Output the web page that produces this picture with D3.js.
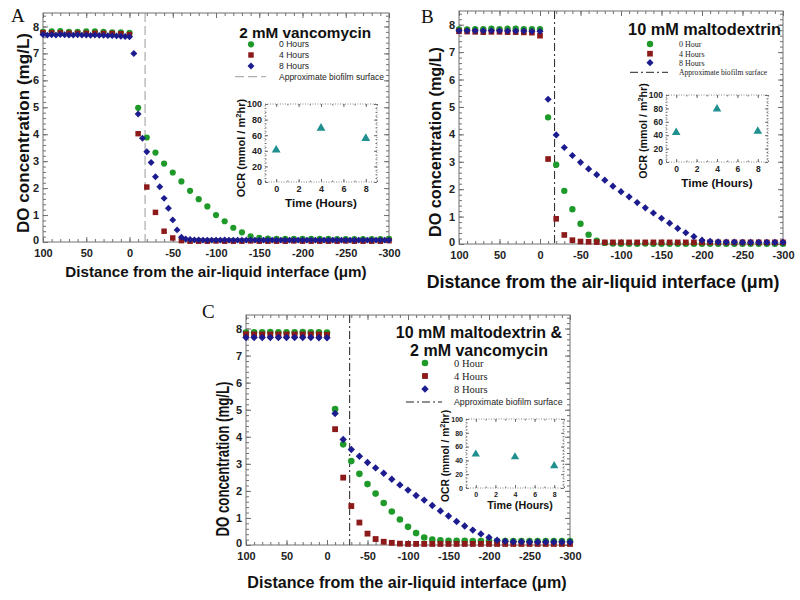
<!DOCTYPE html>
<html><head><meta charset="utf-8">
<script src="https://cdn.jsdelivr.net/npm/d3@7"></script>
<style>body{margin:0;background:#fff}</style>
</head><body><svg id="c" width="800" height="600"></svg>
<script>
// ---------------- DATA ----------------
const depth10 = [100,90,80,70,60,50,40,30,20,10,0,-10,-20,-30,-40,-50,-60,-70,-80,-90,-100,-110,-120,-130,-140,-150,-160,-170,-180,-190,-200,-210,-220,-230,-240,-250,-260,-270,-280,-290,-300];
const depth5 = [100,95,90,85,80,75,70,65,60,55,50,45,40,35,30,25,20,15,10,5,0,
  -5,-10,-15,-20,-25,-30,-35,-40,-45,-50,-55,-60,
  -65,-70,-75,-80,-85,-90,-95,-100,-105,-110,-115,-120,-125,-130,-135,-140,-145,-150,-155,-160,-165,-170,-175,-180,-185,-190,-195,-200,-205,-210,-215,-220,-225,-230,-235,-240,-245,-250,-255,-260,-265,-270,-275,-280,-285,-290,-295,-300];
const xTicks = [100,50,0,-50,-100,-150,-200,-250,-300];
const yTicks = [0,1,2,3,4,5,6,7,8];
const ocrTicksY = [0,20,40,60,80,100];
const ocrTicksX = [0,2,4,6,8];
const hours = [0,4,8];
const labelsA = ["0 Hours","4 Hours","8 Hours"];
const labelsBC = ["0 Hour","4 Hours","8 Hours"];
const surfaceLabel = "Approximate biofilm surface";

// Panel A: 2 mM vancomycin
const doA0 = [7.80,7.82,7.83,7.80,7.80,7.82,7.82,7.80,7.78,7.78,7.76,
  4.98,3.88,3.32,2.91,2.58,2.25,1.90,1.59,1.32,1.00,0.77,0.53,0.36,0.21,0.15,
  0.13,0.12,0.12,0.12,0.12,0.12,0.12,0.12,0.11,0.11,0.11,0.11,0.11,0.11,0.12];
const doA4 = [7.77,7.76,7.76,7.75,7.75,7.75,7.75,7.74,7.74,7.73,7.70,
  4.02,2.04,1.10,0.40,0.15,0.05,0.03,
  0.03,0.03,0.04,0.03,0.03,0.03,0.04,0.03,0.03,0.03,0.03,0.04,0.03,0.03,0.03,0.03,0.03,0.04,0.03,0.03,0.03,0.03,0.05];
const doA8 = [7.70,7.68,7.69,7.68,7.70,7.69,7.68,7.68,7.69,7.68,7.68,7.67,7.68,7.67,7.67,7.66,7.66,7.65,7.64,7.63,7.62,
  7.00,4.75,3.85,3.35,2.95,2.42,2.05,1.62,1.25,0.82,0.45,0.18,
  0.11,0.09,0.08,0.08,0.07,0.07,0.07,0.07,
  0.07,0.08,0.07,0.07,0.07,0.07,0.07,0.08,
  0.07,0.07,0.07,0.07,0.07,0.07,0.07,0.07,
  0.07,0.07,0.07,0.07,0.07,0.07,0.07,0.07,
  0.07,0.07,0.07,0.07,0.07,0.07,0.07,0.07,
  0.07,0.07,0.07,0.07,0.07,0.07,0.07,0.07];
const ocrA = [41,69,56];
const surfA = -18;

// Panel B: 10 mM maltodextrin
const doB0 = [7.83,7.83,7.84,7.84,7.85,7.84,7.85,7.85,7.84,7.84,7.84,
  4.62,2.89,1.94,1.27,0.74,0.34,0.12,
  0.04,0.02,0.01,0.01,0.01,0.02,0.01,0.01,0.01,0.01,0.01,0.01,0.01,0.01,0.01,0.01,0.01,0.01,0.01,0.01,0.01,0.01,0.01];
const doB4 = [7.76,7.75,7.74,7.73,7.74,7.74,7.73,7.73,7.72,7.71,7.60,
  3.10,0.92,0.33,0.14,0.09,0.08,0.07,
  0.06,0.06,0.06,0.06,0.06,0.06,0.06,0.06,0.06,0.06,0.06,0.06,0.06,0.06,0.06,0.06,0.06,0.06,0.06,0.06,0.06,0.06,0.06];
const doB8 = [7.78,7.78,7.78,7.78,7.78,7.78,7.77,7.77,7.77,7.76,7.76,
  5.28,3.98,3.52,3.23,2.98,2.74,2.53,2.33,2.11,1.91,1.72,1.51,1.32,1.13,0.94,0.76,0.57,0.41,0.27,0.14,0.10,0.08,
  0.07,0.07,0.06,0.06,0.06,0.06,0.06,0.06];
const ocrB = [44,79,46];
const surfB = -18;

// Panel C: 10 mM maltodextrin & 2 mM vancomycin
const doC0 = [7.85,7.86,7.86,7.87,7.86,7.86,7.86,7.87,7.86,7.86,7.85,
  5.02,3.72,3.10,2.63,2.25,1.90,1.55,1.24,0.94,0.67,0.44,0.28,0.20,0.17,
  0.16,0.16,0.16,0.15,0.15,0.15,0.15,0.15,0.15,0.15,0.15,0.15,0.15,0.15,0.15,0.15];
const doC4 = [7.79,7.78,7.78,7.78,7.78,7.78,7.78,7.78,7.78,7.78,7.77,
  4.28,2.49,1.44,0.83,0.42,0.22,0.12,0.08,0.05,
  0.04,0.04,0.04,0.04,0.04,0.04,0.04,0.04,0.04,0.04,0.04,0.04,0.04,0.04,0.04,0.04,0.04,0.04,0.04,0.04,0.04];
const doC8 = [7.67,7.67,7.67,7.67,7.67,7.67,7.67,7.67,7.67,7.66,7.66,
  4.86,3.90,3.53,3.28,3.05,2.85,2.65,2.43,2.22,2.03,1.83,1.66,1.46,1.26,1.07,0.87,0.70,0.55,0.41,0.28,0.18,0.14,
  0.12,0.12,0.11,0.11,0.11,0.11,0.11,0.11];
const ocrC = [49,45,32];
const surfC = -28;

// ---------------- DRAWING ----------------
const svg = d3.select("#c");
svg.append("rect").attr("width",800).attr("height",600).attr("fill","#fff");
const SANS = "'Liberation Sans', Arial, Helvetica, sans-serif";
const SERIF = "'Liberation Serif', 'Times New Roman', Times, serif";
const COLORS = ["#1f9a2a","#8c1a1a","#1c1c8e"];
const squareDiamond = {
  draw(ctx, size) {
    const h = Math.sqrt(size / 2);
    ctx.moveTo(0, -h); ctx.lineTo(h, 0); ctx.lineTo(0, h); ctx.lineTo(-h, 0); ctx.closePath();
  }
};
const SHAPES = [d3.symbolCircle, d3.symbolSquare, squareDiamond];
const TEAL = "#1f8f8f";
const FRAME = "#707070";

function styleAxis(sel, fontSize, showLabels) {
  sel.select(".domain").remove();
  sel.selectAll(".tick line").attr("stroke", FRAME);
  sel.selectAll(".tick text").attr("font-family", SANS).attr("font-weight","bold")
     .attr("font-size", fontSize).attr("fill","#222");
  if (!showLabels) sel.selectAll(".tick text").remove();
}

function frameAxes(g, x, y, r, opt) {
  const fmt = d => String(d);
  const xMinor = x.ticks(opt.xMinorCount), yMinor = y.ticks(opt.yMinorCount);
  const M = opt.major, m = opt.minor;
  g.append("g").attr("transform",`translate(0,${r.y1})`)
    .call(d3.axisBottom(x).tickValues(xMinor).tickSize(-m).tickFormat(""))
    .call(s=>styleAxis(s,opt.font,false));
  g.append("g").attr("transform",`translate(0,${r.y1})`)
    .call(d3.axisBottom(x).tickValues(opt.xTicks).tickSize(-M).tickPadding(opt.xPad).tickFormat(fmt))
    .call(s=>styleAxis(s,opt.font,true));
  g.append("g").attr("transform",`translate(0,${r.y0})`)
    .call(d3.axisTop(x).tickValues(xMinor).tickSize(-m).tickFormat(""))
    .call(s=>styleAxis(s,opt.font,false));
  g.append("g").attr("transform",`translate(0,${r.y0})`)
    .call(d3.axisTop(x).tickValues(opt.xTicks).tickSize(-M).tickFormat(""))
    .call(s=>styleAxis(s,opt.font,false));
  g.append("g").attr("transform",`translate(${r.x0},0)`)
    .call(d3.axisLeft(y).tickValues(yMinor).tickSize(-m).tickFormat(""))
    .call(s=>styleAxis(s,opt.font,false));
  const yl = g.append("g").attr("transform",`translate(${r.x0},0)`)
    .call(d3.axisLeft(y).tickValues(opt.yTicks).tickSize(-M).tickPadding(opt.yPad).tickFormat(fmt))
    .call(s=>styleAxis(s,opt.font,true));
  if (opt.zeroLift) yl.selectAll(".tick text").filter(d=>d===0).attr("dy","0.1em");
  g.append("g").attr("transform",`translate(${r.x1},0)`)
    .call(d3.axisRight(y).tickValues(yMinor).tickSize(-m).tickFormat(""))
    .call(s=>styleAxis(s,opt.font,false));
  g.append("g").attr("transform",`translate(${r.x1},0)`)
    .call(d3.axisRight(y).tickValues(opt.yTicks).tickSize(-M).tickFormat(""))
    .call(s=>styleAxis(s,opt.font,false));
}

function symbolPath(i, size) {
  const sizes = [size, size*1.0, size*0.8];
  return d3.symbol().type(SHAPES[i]).size(sizes[i])();
}

function drawPanel(cfg, series, surf, ocr) {
  const g = svg.append("g");
  const r = cfg.frame;
  const x = d3.scaleLinear().domain([100,-300]).range([r.x0, r.x1]);
  const y = d3.scaleLinear().domain([0,8.5]).range([r.y1, r.y0]);
  g.append("rect").attr("x",r.x0).attr("y",r.y0).attr("width",r.x1-r.x0).attr("height",r.y1-r.y0)
    .attr("fill","none").attr("stroke",FRAME).attr("stroke-width",1);
  frameAxes(g, x, y, r, {xTicks, yTicks, xMinorCount:40, yMinorCount:40, major:5, minor:3,
    font:11, xPad:7, yPad:4, zeroLift:true});

  g.append("line").attr("x1",x(surf)).attr("x2",x(surf)).attr("y1",r.y0).attr("y2",r.y1)
    .attr("stroke",cfg.surfColor).attr("stroke-width",1).attr("stroke-dasharray",cfg.dash);

  series.forEach((s,i) => {
    g.append("g").selectAll("path").data(s.y.map((v,k)=>[s.x[k],v])).join("path")
      .attr("d", symbolPath(i, cfg.msize))
      .attr("transform", d=>`translate(${x(d[0])},${y(d[1])})`)
      .attr("fill", COLORS[i]);
  });

  g.append("text").attr("x",cfg.letter[0]).attr("y",cfg.letter[1]).text(cfg.letter[2])
    .attr("font-family",SERIF).attr("font-size",19).attr("fill","#111");

  g.append("text").attr("x",cfg.xt.x).attr("y",cfg.xt.y).attr("text-anchor","middle")
    .attr("font-family",SANS).attr("font-weight","bold").attr("font-size",cfg.xt.size).attr("fill","#111")
    .text("Distance from the air-liquid interface (\u03bcm)");
  g.append("text").attr("transform",`translate(${cfg.yt.x},${cfg.yt.y}) rotate(-90)`).attr("text-anchor","middle")
    .attr("font-family",SANS).attr("font-weight","bold").attr("font-size",cfg.yt.size).attr("fill","#111")
    .attr("textLength",cfg.yt.len).attr("lengthAdjust","spacingAndGlyphs")
    .text("DO concentration (mg/L)");

  const L = cfg.legend;
  L.title.forEach((t,k)=>{
    g.append("text").attr("x",L.tx).attr("y",L.ty[k]).attr("text-anchor",L.tanchor)
      .attr("font-family",SANS).attr("font-weight","bold").attr("font-size",L.tsize).attr("fill","#111").text(t);
  });
  L.labels.forEach((t,i)=>{
    g.append("path").attr("d",symbolPath(i, cfg.msize)).attr("transform",`translate(${L.mx},${L.ey[i]})`).attr("fill",COLORS[i]);
    g.append("text").attr("x",L.lx).attr("y",L.ey[i]+L.esize*0.35).attr("font-family",L.efont)
      .attr("font-size",L.esize).attr("fill","#222").text(t);
  });
  g.append("line").attr("x1",L.dx[0]).attr("x2",L.dx[1]).attr("y1",L.ey[3]).attr("y2",L.ey[3])
    .attr("stroke",cfg.surfColor).attr("stroke-width",1).attr("stroke-dasharray",cfg.dash);
  g.append("text").attr("x",L.lx).attr("y",L.ey[3]+L.ssize*0.35).attr("font-family",L.sfont)
    .attr("font-size",L.ssize).attr("fill","#222").text(surfaceLabel);

  const I = cfg.inset;
  const xi = d3.scaleLinear().domain([-1,9]).range([I.x0,I.x1]);
  const yi = d3.scaleLinear().domain([0,100]).range([I.y1,I.y0]);
  g.append("rect").attr("x",I.x0).attr("y",I.y0).attr("width",I.x1-I.x0).attr("height",I.y1-I.y0)
    .attr("fill","#fff").attr("stroke","#888").attr("stroke-width",1).attr("stroke-dasharray","1,1.5");
  frameAxes(g, xi, yi, I, {xTicks:ocrTicksX, yTicks:ocrTicksY, xMinorCount:10, yMinorCount:20, major:3, minor:1.5,
    font:I.tick, xPad:4, yPad:3, zeroLift:false});
  hours.forEach((h,k)=>{
    g.append("line").attr("x1",xi(h)).attr("x2",xi(h)).attr("y1",yi(ocr[k]-2.5)).attr("y2",yi(ocr[k]+2.5))
      .attr("stroke",TEAL).attr("stroke-width",1);
  });
  g.append("g").selectAll("path").data(hours.map((h,k)=>[h,ocr[k]])).join("path")
    .attr("d", d3.symbol().type(d3.symbolTriangle).size(I.tri)())
    .attr("transform", d=>`translate(${xi(d[0])},${yi(d[1])})`).attr("fill",TEAL);
  g.append("text").attr("x",I.xl[0]).attr("y",I.xl[1]).attr("text-anchor","middle")
    .attr("font-family",SANS).attr("font-weight","bold").attr("font-size",I.xl[2]).attr("fill","#111").text("Time (Hours)");
  const yl = g.append("text").attr("transform",`translate(${I.yl[0]},${I.yl[1]}) rotate(-90)`).attr("text-anchor","middle")
    .attr("font-family",SANS).attr("font-weight","bold").attr("font-size",I.yl[2]).attr("fill","#111");
  yl.append("tspan").text("OCR (mmol / m");
  yl.append("tspan").attr("dy",-I.yl[2]*0.4).attr("font-size",I.yl[2]*0.7).text("2");
  yl.append("tspan").attr("dy",I.yl[2]*0.4).text("hr)");
}

const cfgA = {
  frame:{x0:43,x1:389,y0:13,y1:242}, msize:30, surfColor:"#9a9a9a", dash:"9,4",
  letter:[11,22,"A"], xt:{x:216,y:277,size:15.2}, yt:{x:29,y:133,size:17,len:200},
  legend:{title:["2 mM vancomycin"], tx:371, ty:[37.5], tanchor:"end", tsize:15.3,
    labels:labelsA, mx:251, lx:279, ey:[44.3,55,66,76.7], efont:SANS, esize:8.6, sfont:SANS, ssize:8.5, dx:[235,266]},
  inset:{x0:265,x1:377,y0:104,y1:182, tick:9, tri:34, xl:[321,207,11.7], yl:[245,148,11]}
};
const cfgB = {
  frame:{x0:459,x1:783,y0:11,y1:244}, msize:32, surfColor:"#222", dash:"8,3,2,3",
  letter:[421,23,"B"], xt:{x:603,y:288,size:17.8}, yt:{x:441,y:142,size:17,len:190},
  legend:{title:["10 mM maltodextrin"], tx:781, ty:[35], tanchor:"end", tsize:16.3,
    labels:labelsBC, mx:650, lx:679, ey:[44,53.7,62.7,72.3], efont:SERIF, esize:8, sfont:SERIF, ssize:7.6, dx:[630,668]},
  inset:{x0:666,x1:768,y0:95,y1:162, tick:8.5, tri:32, xl:[717,187,11.6], yl:[647,131,10.7]}
};
const cfgC = {
  frame:{x0:246,x1:570,y0:315,y1:545}, msize:34, surfColor:"#222", dash:"8,3,2,3",
  letter:[202,318,"C"], xt:{x:407,y:588,size:16.1}, yt:{x:229,y:459,size:18,len:155},
  legend:{title:["10 mM maltodextrin &","2 mM vancomycin"], tx:479, ty:[337.5,355.5], tanchor:"middle", tsize:16,
    labels:labelsBC, mx:425, lx:454, ey:[363,376,389,402], efont:SERIF, esize:10.5, sfont:SANS, ssize:8.8, dx:[406,442]},
  inset:{x0:466,x1:564,y0:419,y1:488, tick:7, tri:30, xl:[520,509,10.7], yl:[449,456,10.3]}
};

drawPanel(cfgA, [{x:depth10,y:doA0},{x:depth10,y:doA4},{x:depth5,y:doA8}], surfA, ocrA);
drawPanel(cfgB, [{x:depth10,y:doB0},{x:depth10,y:doB4},{x:depth10,y:doB8}], surfB, ocrB);
drawPanel(cfgC, [{x:depth10,y:doC0},{x:depth10,y:doC4},{x:depth10,y:doC8}], surfC, ocrC);
</script></body></html>
